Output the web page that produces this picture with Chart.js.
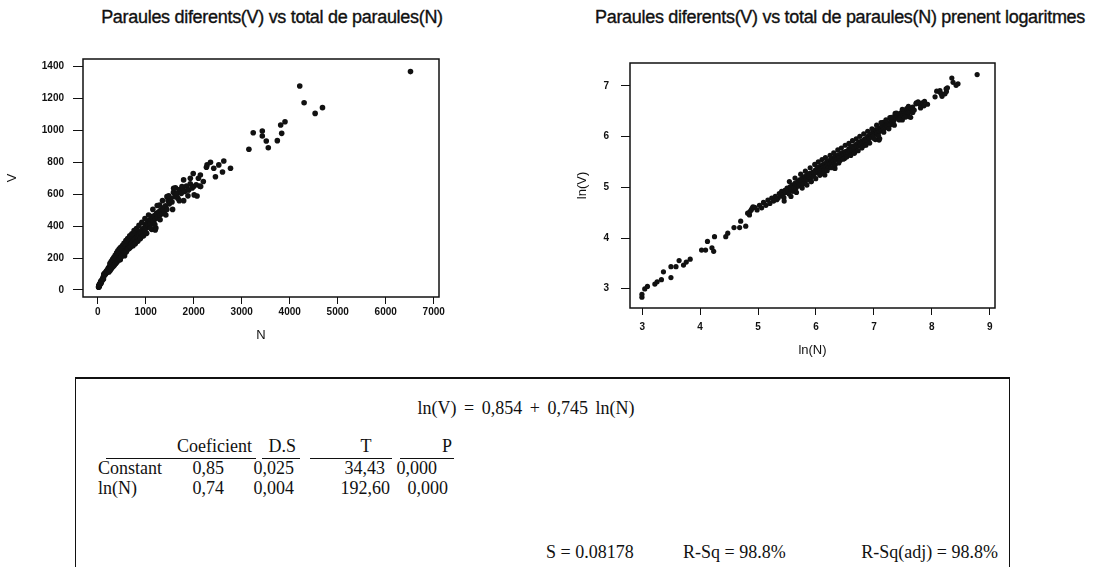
<!DOCTYPE html>
<html>
<head>
<meta charset="utf-8">
<script src="https://cdn.jsdelivr.net/npm/chart.js@4.4.0/dist/chart.umd.min.js"></script>
<style>
  body { margin: 0; width: 1101px; height: 567px; overflow: hidden; background: #fff; position: relative; font-family: "Liberation Sans", Arial, sans-serif; color: #111; }
  .title { position: absolute; top: 7px; font-size: 18px; white-space: nowrap; letter-spacing: -0.3px; text-align: center; -webkit-text-stroke: 0.35px #111; }
  .box { position: absolute; }
  #box { position: absolute; left: 75px; top: 377px; width: 933px; height: 210px; border-top: 2px solid #111; border-left: 1px solid #111; border-right: 1px solid #111; font-family: "Liberation Serif", "Times New Roman", serif; font-size: 18px; }
  #box span { position: absolute; white-space: nowrap; line-height: 20px; }
  .ul { position: absolute; height: 0; border-top: 1.5px solid #111; }
</style>
</head>
<body>
<div class="title" style="left:72px; width:400px;">Paraules diferents(V) vs total de paraules(N)</div>
<div class="title" style="left:585px; width:510px;">Paraules diferents(V) vs total de paraules(N) prenent logaritmes</div>

<div class="box" style="left:0px; top:40px; width:460px; height:320px;"><canvas id="c1"></canvas></div>
<div class="box" style="left:560px; top:40px; width:541px; height:330px;"><canvas id="c2"></canvas></div>

<div id="box">
  <span style="left:0; width:900px; top:19px; text-align:center; word-spacing:3px;">ln(V) = 0,854 + 0,745 ln(N)</span>

  <span style="left:76px; width:100px; top:57px; text-align:right;">Coeficient</span>
  <span style="left:170px; width:50px; top:57px; text-align:right;">D.S</span>
  <span style="left:270px; width:40px; top:57px; text-align:center;">T</span>
  <span style="left:336px; width:40px; top:57px; text-align:right;">P</span>
  <div class="ul" style="left:30px; width:150px; top:79px;"></div>
  <div class="ul" style="left:186px; width:38px; top:79px;"></div>
  <div class="ul" style="left:234px; width:82px; top:79px;"></div>
  <div class="ul" style="left:324px; width:54px; top:79px;"></div>

  <span style="left:22px; top:79px;">Constant</span>
  <span style="left:88px; width:60px; top:79px; text-align:right;">0,85</span>
  <span style="left:158px; width:60px; top:79px; text-align:right;">0,025</span>
  <span style="left:239px; width:70px; top:79px; text-align:right;">34,43</span>
  <span style="left:301px; width:60px; top:79px; text-align:right;">0,000</span>

  <span style="left:22px; top:99px;">ln(N)</span>
  <span style="left:88px; width:60px; top:99px; text-align:right;">0,74</span>
  <span style="left:158px; width:60px; top:99px; text-align:right;">0,004</span>
  <span style="left:244px; width:70px; top:99px; text-align:right;">192,60</span>
  <span style="left:312px; width:60px; top:99px; text-align:right;">0,000</span>

  <span style="left:470px; top:163px;">S = 0.08178</span>
  <span style="left:607px; top:163px;">R-Sq = 98.8%</span>
  <span style="left:722px; width:200px; top:163px; text-align:right;">R-Sq(adj) = 98.8%</span>
</div>

<script>
// total de paraules (N) i paraules diferents (V), llegits del gràfic
var totalN = [
  20, 20, 21, 22, 25, 26, 28, 29, 33, 33, 36, 38, 41, 43, 46, 56, 60, 62, 67, 69,
  70, 85, 88, 98, 108, 110, 120, 124, 128, 129, 132, 134, 136, 140, 146, 152, 158, 163, 170, 176,
  182, 188, 194, 200, 205, 210, 214, 219, 223, 228, 232, 233, 236, 241, 245, 249, 254, 258, 262, 267,
  271, 276, 280, 285, 290, 294, 299, 304, 308, 313, 318, 322, 327, 332, 337, 342, 347, 352, 357, 362,
  367, 372, 377, 382, 388, 393, 399, 405, 411, 417, 423, 429, 435, 441, 447, 453, 459, 466, 470, 472,
  479, 485, 492, 499, 506, 513, 520, 528, 535, 543, 551, 559, 560, 567, 576, 584, 593, 602, 611, 620,
  630, 640, 650, 660, 670, 681, 692, 703, 715, 727, 739, 751, 763, 776, 789, 802, 815, 829, 843, 857,
  871, 886, 901, 916, 931, 947, 963, 980, 997, 1014, 1032, 1050, 1068, 1087, 1106, 1125, 1129, 1145, 1164, 1165,
  1186, 1199, 1207, 1212, 1228, 1233, 1250, 1272, 1289, 1295, 1318, 1342, 1366, 1373, 1390, 1415, 1440, 1443, 1466, 1492,
  1512, 1520, 1548, 1578, 1582, 1608, 1640, 1651, 1672, 1705, 1740, 1756, 1776, 1791, 1812, 1850, 1888, 1895, 1928, 1930,
  1968, 2000, 2010, 2052, 2070, 2098, 2125, 2139, 2145, 2265, 2279, 2418, 2453, 2523, 2627, 2767, 3150, 3240, 3429, 3429,
  3512, 3554, 3742, 3812, 3833, 3902, 4209, 4300, 4530, 4683, 6516,
  255, 262, 281, 288, 310, 318, 336, 345, 365, 371, 395, 402, 420, 431, 448, 458, 475, 489, 515, 527,
  548, 563, 588, 598, 625, 645, 668, 685, 712, 735, 758, 782, 808, 835, 860, 890, 920, 955, 985, 1020,
  1060, 1100, 1150, 1190, 1240, 1300, 1350, 1420, 1480, 1560, 1620, 1700, 1790, 1880, 1990, 2200, 2350, 2600
];
var diferentsV = [
  17, 18, 20, 21, 22, 23, 24, 28, 25, 31, 31, 35, 32, 34, 36, 43, 43, 51, 45, 42,
  56, 56, 60, 67, 67, 76, 69, 89, 86, 92, 95, 98, 101, 100, 95, 104, 99, 110, 104, 115,
  108, 120, 113, 124, 116, 120, 131, 125, 137, 128, 121, 113, 140, 134, 146, 138, 130, 150, 142, 155,
  137, 149, 160, 145, 156, 166, 152, 172, 160, 167, 178, 158, 174, 183, 169, 176, 190, 172, 183, 195,
  178, 166, 190, 200, 185, 196, 208, 198, 214, 205, 222, 209, 197, 226, 215, 232, 220, 208, 189, 236,
  225, 244, 230, 218, 250, 236, 258, 244, 262, 249, 233, 270, 215, 256, 275, 262, 281, 266, 252, 288,
  272, 294, 279, 262, 300, 286, 305, 290, 318, 302, 326, 309, 335, 316, 298, 345, 330, 352, 335, 362,
  341, 370, 352, 336, 381, 362, 390, 370, 410, 388, 420, 402, 435, 414, 445, 380, 460, 458, 418, 432,
  466, 376, 446, 388, 478, 481, 455, 490, 533, 468, 503, 480, 515, 501, 492, 528, 505, 585, 560, 540,
  554, 575, 552, 612, 637, 585, 600, 606, 574, 630, 605, 648, 640, 560, 618, 652, 628, 627, 665, 700,
  640, 648, 596, 660, 589, 700, 652, 721, 648, 769, 784, 763, 710, 784, 809, 763, 882, 986, 997, 965,
  934, 892, 936, 1034, 982, 1055, 1279, 1174, 1107, 1143, 1369,
  166, 124, 178, 134, 192, 146, 204, 155, 218, 166, 233, 176, 245, 188, 256, 195, 266, 206, 278, 218,
  292, 232, 310, 240, 322, 258, 340, 270, 352, 278, 372, 290, 385, 305, 405, 322, 425, 340, 448, 355,
  470, 388, 505, 410, 530, 440, 560, 470, 590, 505, 640, 560, 690, 590, 730, 680, 800, 740
];

var ticksN = [0, 1000, 2000, 3000, 4000, 5000, 6000, 7000];
var ticksV = [0, 200, 400, 600, 800, 1000, 1200, 1400];
var ticksLnN = [3, 4, 5, 6, 7, 8, 9];
var ticksLnV = [3, 4, 5, 6, 7];

var lnN = totalN.map(function (n) { return Math.log(n); });
var lnV = diferentsV.map(function (v) { return Math.log(v); });

var frame = {
  id: 'frame',
  afterDraw: function (chart) {
    var a = chart.chartArea, c = chart.ctx;
    c.save();
    c.strokeStyle = '#111';
    c.lineWidth = 1.5;
    c.strokeRect(a.left, a.top, a.right - a.left, a.bottom - a.top);
    c.restore();
  }
};

function axis(ticks, min, max, title, size, tickLen, pad, titlePad) {
  return {
    type: 'linear',
    min: min,
    max: max,
    afterBuildTicks: function (s) { s.ticks = ticks.map(function (v) { return { value: v }; }); },
    afterFit: function (s) { if (s.isHorizontal()) s.height = size; else s.width = size; },
    grid: { drawOnChartArea: false, drawTicks: true, tickLength: tickLen, color: '#111', lineWidth: 1 },
    border: { display: false },
    ticks: {
      color: '#111',
      padding: pad,
      font: { family: 'Liberation Sans', size: 10, weight: 'bold' },
      callback: function (v) { return String(v); }
    },
    title: { display: true, text: title, color: '#111', padding: titlePad, font: { family: 'Liberation Sans', size: 13 } }
  };
}

function points(xs, ys) {
  return xs.map(function (x, i) { return { x: x, y: ys[i] }; });
}

new Chart(document.getElementById('c1'), {
  type: 'scatter',
  data: {
    datasets: [{
      data: points(totalN, diferentsV),
      backgroundColor: '#111',
      borderWidth: 0,
      pointRadius: 2.8
    }]
  },
  options: {
    responsive: true,
    maintainAspectRatio: false,
    animation: false,
    layout: { padding: { left: 0, top: 19, right: 21, bottom: 0 } },
    scales: {
      x: axis(ticksN, -306, 7110, 'N', 63, 7, 2, { top: 0, bottom: 17 }),
      y: axis(ticksV, -44, 1448, 'V', 83, 10, 9, { top: 5, bottom: 0 })
    },
    plugins: { legend: { display: false }, tooltip: { enabled: false } }
  },
  plugins: [frame]
});

new Chart(document.getElementById('c2'), {
  type: 'scatter',
  data: {
    datasets: [{
      data: points(lnN, lnV),
      backgroundColor: '#111',
      borderWidth: 0,
      pointRadius: 2.6
    }]
  },
  options: {
    responsive: true,
    maintainAspectRatio: false,
    animation: false,
    layout: { padding: { left: 0, top: 23, right: 106, bottom: 0 } },
    scales: {
      x: axis(ticksLnN, 2.79, 9.09, 'ln(N)', 62, 7, 6, { top: 0, bottom: 12 }),
      y: axis(ticksLnV, 2.62, 7.45, 'ln(V)', 70, 9, 12, { top: 15, bottom: 0 })
    },
    plugins: { legend: { display: false }, tooltip: { enabled: false } }
  },
  plugins: [frame]
});
</script>
</body>
</html>
